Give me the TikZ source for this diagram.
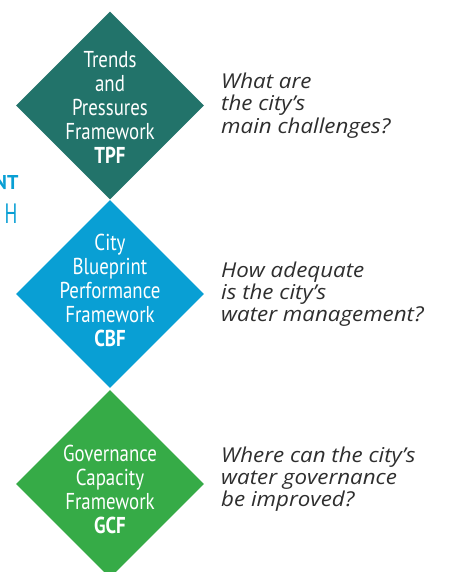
\documentclass[tikz,border=0pt]{standalone}
\usepackage{fontspec}
\usepackage{tikz}
\usetikzlibrary{shapes.geometric}
\newfontfamily\diafont[FakeStretch=0.82]{PT Sans}
\newfontfamily\titlefont{PT Sans}
\newfontfamily\narrowfont[FakeStretch=0.68]{PT Sans}
\newfontfamily\askfont[FakeStretch=1.09]{Open Sans}
\definecolor{tpfteal}{HTML}{22736A}
\definecolor{cbfblue}{HTML}{099FD4}
\definecolor{gcfgreen}{HTML}{36AB47}
\definecolor{askgray}{HTML}{2E2E2E}

\begin{document}
\begin{tikzpicture}[x=1pt, y=-1pt,
  framebox/.style={diamond, fill=#1, draw=none, minimum width=188pt, minimum height=188pt, inner sep=0pt},
  frametext/.style={text=white, align=center, inner sep=0pt, font=\diafont\fontsize{23}{24}\selectfont},
  question/.style={anchor=west, text=askgray, align=left, inner sep=0pt, font=\askfont\itshape\fontsize{20.5}{22.3}\selectfont}]
%%%%%%%%%%%%%%%%%%%%%%%%%%%%%%%
\useasboundingbox (0,0) rectangle (448,572);
\clip (0,0) rectangle (448,572);
%%%%%%%%%%%%%%%%%%%%%%%%%%%%%%%
% the three frameworks
%%%%%%%%%%%%%%%%%%%%%%%%%%%%%%%
\node [framebox=tpfteal]  (tpf) at (110, 105.5) {};
\node [framebox=cbfblue]  (cbf) at (110, 294) {};
\node [framebox=gcfgreen] (gcf) at (110, 484) {};
%
\node [frametext] (tpftext) at (110, 107.5) {Trends\\and\\Pressures\\Framework\\\textbf{TPF}};
\node [frametext] (cbftext) at (110, 290.5) {City\\Blueprint\\Performance\\Framework\\\textbf{CBF}};
\node [frametext] (gcftext) at (110, 489) {Governance\\Capacity\\Framework\\\textbf{GCF}};
%
% questions
\node [question] (tpfask) at (221, 105.5) {What are\\the city’s\\main challenges?};
\node [question] (cbfask) at (221, 294) {How adequate\\is the city’s\\water management?};
\node [question] (gcfask) at (221, 479) {Where can the city’s\\water governance\\be improved?};
%
% cut-off title at the left edge
\node [anchor=base east, inner sep=0pt, text=cbfblue, font=\titlefont\bfseries\fontsize{20}{20}\selectfont] (titleone) at (18.7, 189) {NT};
\node [anchor=base east, inner sep=0pt, text=cbfblue, font=\narrowfont\fontsize{28}{28}\selectfont] (titletwo) at (17.5, 223.5) {H};
%%%%%%%%%%%%%%%%%%%%%%%%%%%%%%%
\end{tikzpicture}
\end{document}
